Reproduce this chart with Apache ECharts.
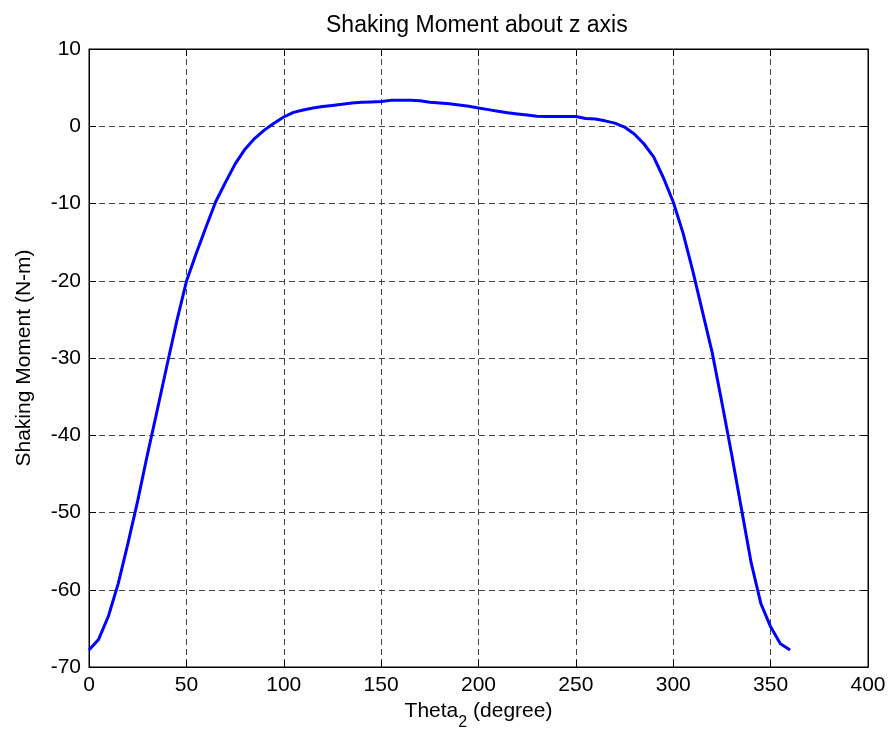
<!DOCTYPE html>
<html>
<head>
<meta charset="utf-8">
<script src="https://cdn.jsdelivr.net/npm/echarts@6/dist/echarts.min.js"></script>
<style>
html,body{margin:0;padding:0;background:#fff;}
#chart{width:893px;height:737px;}
</style>
</head>
<body>
<div id="chart"></div>
<script>
const titleText = 'Shaking Moment about z axis';
const yAxisName = 'Shaking Moment (N-m)';
const theta = [0,5,10,15,20,25,30,35,40,45,50,55,60,65,70,75,80,85,90,95,100,105,110,115,120,125,130,135,140,145,150,155,160,165,170,175,180,185,190,195,200,205,210,215,220,225,230,235,240,245,250,255,260,265,270,275,280,285,290,295,300,305,310,315,320,325,330,335,340,345,350,355,360];
const moment = [-67.8,-66.4,-63.4,-59.2,-54.0,-48.5,-42.5,-36.8,-31.0,-25.3,-20.1,-16.5,-13.1,-9.8,-7.3,-4.9,-3.0,-1.6,-0.5,0.4,1.2,1.8,2.1,2.35,2.55,2.7,2.85,3.0,3.1,3.15,3.2,3.35,3.35,3.35,3.3,3.1,3.0,2.9,2.75,2.6,2.35,2.15,1.95,1.75,1.6,1.45,1.3,1.27,1.27,1.27,1.25,1.0,0.95,0.7,0.4,-0.1,-1.0,-2.3,-4.0,-6.7,-9.8,-13.8,-18.7,-24.0,-29.3,-35.8,-42.5,-49.5,-56.5,-61.8,-64.8,-67.0,-67.8];
const xTicks = {min:0, max:400, interval:50};
const yTicks = {min:-70, max:10, interval:10};

const FONT = 'Liberation Sans, Arial, sans-serif';
const seriesData = theta.map((t,i)=>[t, moment[i]]);
const gridLine = {show:true, lineStyle:{color:'#444', type:[6,4], width:1}};
const chart = echarts.init(document.getElementById('chart'));
chart.setOption({
  backgroundColor:'#ffffff',
  animation:false,
  title:{text:titleText, left:321, top:9, textStyle:{fontFamily:FONT, fontSize:23, fontWeight:'normal', color:'#000'}},
  grid:{left:89, right:25, top:49, bottom:70, show:true, borderColor:'#000', borderWidth:1},
  xAxis:[{
    type:'value', min:xTicks.min, max:xTicks.max, interval:xTicks.interval,
    axisLine:{show:true, onZero:false, lineStyle:{color:'#000', width:1}},
    axisTick:{show:true, inside:true, length:7, lineStyle:{color:'#000'}},
    axisLabel:{fontFamily:FONT, fontSize:21, color:'#000', margin:8},
    splitLine:gridLine,
    name:'{a|Theta}{s|2}{a| (degree)}', nameLocation:'middle', nameGap:34,
    nameTextStyle:{rich:{
      a:{fontFamily:FONT, fontSize:21, color:'#000', lineHeight:24, verticalAlign:'top'},
      s:{fontFamily:FONT, fontSize:16, color:'#000', lineHeight:24, padding:[14,0,0,0], verticalAlign:'top'}
    }}
  },{
    type:'value', position:'top', min:xTicks.min, max:xTicks.max, interval:xTicks.interval,
    axisLine:{show:true, onZero:false, lineStyle:{color:'#000'}},
    axisTick:{show:true, inside:true, length:7, lineStyle:{color:'#000'}},
    axisLabel:{show:false}, splitLine:{show:false}
  }],
  yAxis:[{
    type:'value', min:yTicks.min, max:yTicks.max, interval:yTicks.interval,
    axisLine:{show:true, onZero:false, lineStyle:{color:'#000', width:1}},
    axisTick:{show:true, inside:true, length:7, lineStyle:{color:'#000'}},
    axisLabel:{fontFamily:FONT, fontSize:21, color:'#000', margin:8},
    splitLine:gridLine,
    name:yAxisName, nameLocation:'middle', nameGap:54,
    nameTextStyle:{fontFamily:FONT, fontSize:21, color:'#000'}
  },{
    type:'value', position:'right', min:yTicks.min, max:yTicks.max, interval:yTicks.interval,
    axisLine:{show:true, onZero:false, lineStyle:{color:'#000'}},
    axisTick:{show:true, inside:true, length:7, lineStyle:{color:'#000'}},
    axisLabel:{show:false}, splitLine:{show:false}
  }],
  series:[{
    type:'line', data:seriesData, showSymbol:false, symbol:'none',
    lineStyle:{color:'#0000ff', width:3}, itemStyle:{color:'#0000ff'}
  }]
});
</script>
</body>
</html>
